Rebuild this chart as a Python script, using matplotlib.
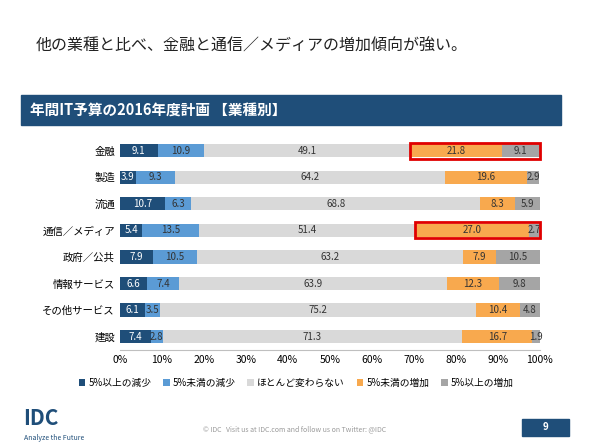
import matplotlib
matplotlib.use("Agg")
import matplotlib.pyplot as plt
from matplotlib.patches import Rectangle

plt.rcParams['font.family'] = ['Noto Sans CJK JP', 'DejaVu Sans']

categories = ["金融", "製造", "流通", "通信／メディア", "政府／公共", "情報サービス", "その他サービス", "建設"]
series_names = ["5%以上の減少", "5%未満の減少", "ほとんど変わらない", "5%未満の増加", "5%以上の増加"]
big_dec = [9.1, 3.9, 10.7, 5.4, 7.9, 6.6, 6.1, 7.4]
small_dec = [10.9, 9.3, 6.3, 13.5, 10.5, 7.4, 3.5, 2.8]
same = [49.1, 64.2, 68.8, 51.4, 63.2, 63.9, 75.2, 71.3]
small_inc = [21.8, 19.6, 8.3, 27.0, 7.9, 12.3, 10.4, 16.7]
big_inc = [9.1, 2.9, 5.9, 2.7, 10.5, 9.8, 4.8, 1.9]
highlight = ["金融", "通信／メディア"]

colors = ["#1F4E79", "#5B9BD5", "#D9D9D9", "#F8A94E", "#A5A5A5"]
textcolors = ["white", "#333333", "#333333", "#333333", "#333333"]

fig = plt.figure(figsize=(5.9, 4.43), dpi=100)
fig.text(0.06, 0.895, "他の業種と比べ、金融と通信／メディアの増加傾向が強い。", fontsize=11.5, color="#222222", va="center")
fig.patches.append(Rectangle((0.035, 0.718), 0.915, 0.068, transform=fig.transFigure, color="#1F4E79"))
fig.text(0.05, 0.752, "年間IT予算の2016年度計画 【業種別】", fontsize=10.5, color="white", va="center", weight="bold")

ax = fig.add_axes([0.203, 0.21, 0.712, 0.48])
data = [big_dec, small_dec, same, small_inc, big_inc]
y = list(range(len(categories)))
left = [0.0] * len(categories)
for k, vals in enumerate(data):
    ax.barh(y, vals, left=left, color=colors[k], height=0.5, label=series_names[k])
    for i, v in enumerate(vals):
        ax.text(left[i] + v / 2, i, f"{v:.1f}", ha="center", va="center", fontsize=7, color=textcolors[k])
    left = [l + v for l, v in zip(left, vals)]
for name in highlight:
    i = categories.index(name)
    s = big_dec[i] + small_dec[i] + same[i]
    ax.add_patch(Rectangle((s, i - 0.3), small_inc[i] + big_inc[i], 0.6, fill=False, edgecolor="#E00000", lw=2, clip_on=False, zorder=5))
ax.set_xlim(0, 100)
ax.set_ylim(len(categories) - 0.5, -0.5)
ax.set_yticks(y)
ax.set_yticklabels(categories, fontsize=7.5)
ax.set_xticks(range(0, 101, 10))
ax.set_xticklabels([f"{t}%" for t in range(0, 101, 10)], fontsize=7.5)
ax.tick_params(length=0)
for s in ["top", "right", "left"]:
    ax.spines[s].set_visible(False)
ax.spines["bottom"].set_color("#BFBFBF")
ax.legend(loc="upper center", bbox_to_anchor=(0.42, -0.09), ncol=5, frameon=False, fontsize=7,
          handlelength=0.7, handleheight=0.7, columnspacing=1.2, handletextpad=0.3)

fig.text(0.04, 0.055, "IDC", fontsize=15, color="#1F4E79", weight="bold", va="center")
fig.text(0.04, 0.012, "Analyze the Future", fontsize=5, color="#1F4E79", va="center")
fig.text(0.5, 0.03, "© IDC   Visit us at IDC.com and follow us on Twitter: @IDC", fontsize=5, color="#999999", ha="center", va="center")
fig.patches.append(Rectangle((0.885, 0.015), 0.08, 0.04, transform=fig.transFigure, color="#1F4E79"))
fig.text(0.925, 0.035, "9", fontsize=7, color="white", ha="center", va="center", weight="bold")

fig.savefig("out.png", dpi=100)
